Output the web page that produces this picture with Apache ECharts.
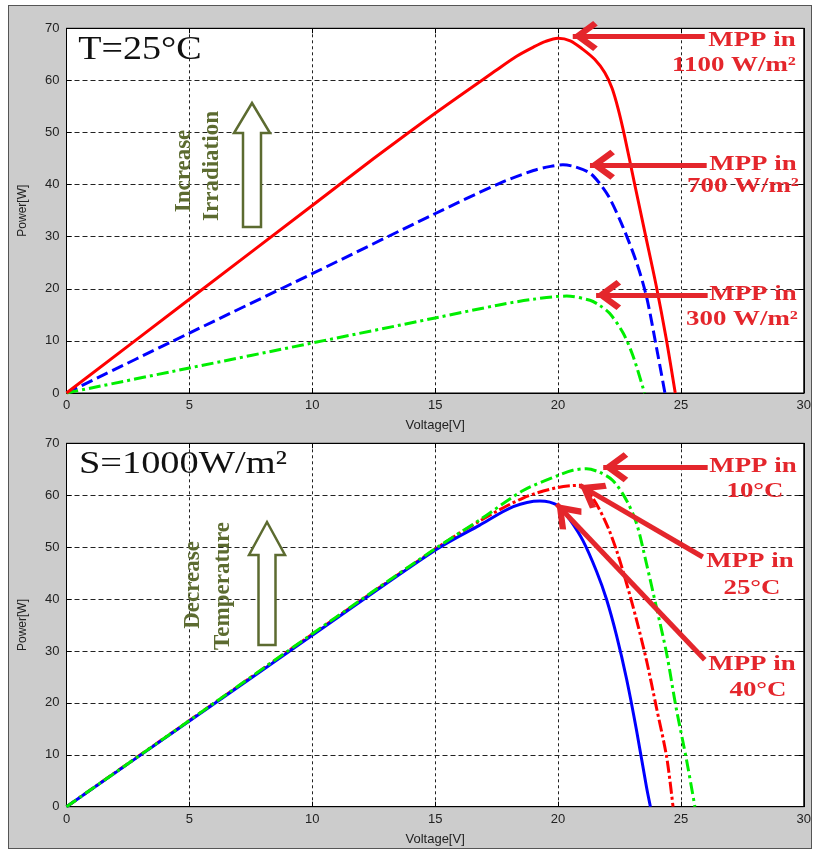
<!DOCTYPE html>
<html><head><meta charset="utf-8">
<script src="https://cdn.jsdelivr.net/npm/echarts@6/dist/echarts.min.js"></script>
<style>
html,body{margin:0;padding:0;background:#fff;}
#frame{position:absolute;left:8px;top:5px;width:802px;height:842px;background:#cccccc;border:1px solid #555;}
#chart{position:absolute;left:0;top:0;width:814px;height:850px;}
</style></head><body><div id="frame"></div><div id="chart"></div>
<script>
// ---------- data: top chart (T = 25°C, varying irradiation) ----------
const xTicks = [0, 5, 10, 15, 20, 25, 30];
const yTicks = [0, 10, 20, 30, 40, 50, 60, 70];

const v1100 = [0, 5, 10, 12.5, 15, 17.5, 18.3, 19, 19.5, 20, 20.5, 21, 21.5, 21.9, 22.2, 22.45, 22.7, 23.1, 23.55, 24.0, 24.4, 24.77];
const p1100 = [0, 18, 36, 45, 53.7, 62, 64.6, 66.4, 67.5, 68.1, 67.6, 66, 64, 61.5, 58.5, 54.5, 49.5, 40.5, 30.5, 20.5, 10.5, 0];

const v700 = [0, 5, 10, 14.9, 17.6, 19, 19.7, 20.2, 20.7, 21.3, 21.7, 22.1, 22.64, 23.2, 23.6, 24.0, 24.35];
const p700 = [0, 11.5, 22.9, 34.2, 40.2, 42.7, 43.5, 43.8, 43.4, 42.2, 40.2, 37.4, 31.9, 25, 18.5, 8.9, 0];

const v300 = [0, 5, 10, 15, 17.6, 19, 20.35, 21.3, 21.7, 22.1, 22.65, 23.06, 23.52];
const p300 = [0, 4.8, 9.6, 14.4, 16.9, 18, 18.6, 17.8, 16.8, 15.3, 11.5, 7, 0];

// ---------- data: bottom chart (S = 1000 W/m², varying temperature) ----------
const v40 = [0, 5, 10, 15, 16.8, 18.18, 19.26, 20, 20.48, 21.02, 21.57, 21.97, 22.38, 22.79, 23.2, 23.6, 23.76];
const p40 = [0, 16.5, 33, 49.4, 54.2, 57.8, 58.9, 58, 55.3, 51.2, 45.3, 40, 33, 24.6, 14.6, 3.8, 0];

const v25 = [0, 5, 10, 15, 16.8, 18.6, 20, 20.9, 21.43, 21.97, 22.38, 22.79, 23.2, 23.6, 24.0, 24.42, 24.68];
const p25 = [0, 16.6, 33.2, 49.6, 55, 59.5, 61.5, 61.9, 59.3, 54.5, 49.4, 43, 35.9, 28.2, 19.2, 9.6, 0];

const v10 = [0, 5, 10, 15, 16.8, 18.58, 20, 20.6, 21.16, 21.7, 22.24, 22.79, 23.2, 23.6, 24.0, 24.42, 24.8, 25.23, 25.57];
const p10 = [0, 16.6, 33.3, 49.7, 55.2, 60.9, 63.8, 64.8, 65.1, 64.4, 62.8, 59, 54.5, 46.8, 38.5, 29.5, 19.2, 9, 0];

// annotation arrows: [fromV, fromP, toV, toP]
const topArrows = [[25.97, 68.5, 20.6, 68.5], [26.05, 43.8, 21.3, 43.8], [26.09, 18.8, 21.55, 18.8]];
const botArrows = [[26.09, 65.4, 21.84, 65.4], [25.89, 48.1, 20.89, 61.9], [25.97, 28.3, 19.94, 58.3]];

const zip = (a, b) => a.map((v, i) => [v, b[i]]);

const RED_TXT = '#e4262c';
const OLIVE = '#5c6b30';

function arrowMark(list) {
  return {
    silent: true, animation: false,
    symbol: ['none', 'path://M50,0 L100,62 L85,76 L50,32 L15,76 L0,62 Z'],
    symbolSize: [30, 25],
    symbolOffset: [[0, 0], [0, 12.5]],
    label: { show: false },
    lineStyle: { color: RED_TXT, width: 5, type: 'solid' },
    itemStyle: { color: RED_TXT },
    emphasis: { disabled: true },
    data: list.map(a => [{ coord: [a[0], a[1]] }, { coord: [a[2], a[3]] }])
  };
}

const gridA = { left: 66.5, top: 28.3, width: 737.5, height: 364.7 };
const gridB = { left: 66.5, top: 443.3, width: 737.5, height: 363.4 };
const tickLbl = { color: '#222', fontSize: 13, fontFamily: 'Liberation Sans, Arial, sans-serif' };

function xAx(gi, pos) {
  const main = pos === 'bottom';
  return {
    type: 'value', gridIndex: gi, position: pos, min: 0, max: 30, interval: 5,
    axisLine: { show: true, onZero: false, lineStyle: { color: '#000', width: 1 } },
    axisTick: { show: true, inside: true, length: 5, lineStyle: { color: '#000' } },
    axisLabel: main ? Object.assign({ margin: 6, formatter: v => xTicks.includes(v) ? String(v) : '' }, tickLbl) : { show: false },
    splitLine: main ? { show: true, lineStyle: { color: '#222', type: [3, 3], width: 1 } } : { show: false },
    name: main ? 'Voltage[V]' : '', nameLocation: 'middle', nameGap: 26,
    nameTextStyle: { color: '#222', fontSize: 13, fontFamily: 'Liberation Sans, Arial, sans-serif' }
  };
}
function yAx(gi, pos) {
  const main = pos === 'left';
  return {
    type: 'value', gridIndex: gi, position: pos, min: 0, max: 70, interval: 10,
    axisLine: { show: true, onZero: false, lineStyle: { color: '#000', width: 1 } },
    axisTick: { show: true, inside: true, length: 5, lineStyle: { color: '#000' } },
    axisLabel: main ? Object.assign({ margin: 7, formatter: v => yTicks.includes(v) ? String(v) : '' }, tickLbl) : { show: false },
    splitLine: main ? { show: true, lineStyle: { color: '#222', type: [5, 3], width: 1 } } : { show: false },
    name: main ? 'Power[W]' : '', nameLocation: 'middle', nameGap: 38,
    nameTextStyle: { color: '#222', fontSize: 12, fontFamily: 'Liberation Sans, Arial, sans-serif' }
  };
}

function line(name, xi, yi, data, color, type, mark) {
  const s = {
    name, type: 'line', xAxisIndex: xi, yAxisIndex: yi, data, showSymbol: false,
    smooth: 0.3, animation: false,
    lineStyle: { color, width: 3, type }, itemStyle: { color }
  };
  if (mark) s.markLine = mark;
  return s;
}

const serif = 'Liberation Serif, Times New Roman, serif';
function rtext(x, y, t, size, sx, color, weight) {
  return { type: 'text', x, y, scaleX: sx, z: 100,
    style: { text: t, fill: color, font: (weight || 'bold') + ' ' + size + 'px ' + serif, textAlign: 'center', textVerticalAlign: 'middle' } };
}
function vtext(x, y, t) {
  return { type: 'text', x, y, rotation: Math.PI / 2, z: 100,
    style: { text: t, fill: OLIVE, font: 'bold 23px ' + serif, textAlign: 'center', textVerticalAlign: 'middle' } };
}
function hollowArrow(pts) {
  return { type: 'polygon', z: 100, shape: { points: pts }, style: { fill: '#fff', stroke: OLIVE, lineWidth: 2.5 } };
}

const chart = echarts.init(document.getElementById('chart'), null, { renderer: 'canvas' });
chart.setOption({
  backgroundColor: 'transparent',
  animation: false,
  grid: [
    Object.assign({ show: true, backgroundColor: '#fff', borderColor: '#000', borderWidth: 1 }, gridA),
    Object.assign({ show: true, backgroundColor: '#fff', borderColor: '#000', borderWidth: 1 }, gridB)
  ],
  xAxis: [xAx(0, 'bottom'), xAx(0, 'top'), xAx(1, 'bottom'), xAx(1, 'top')],
  yAxis: [yAx(0, 'left'), yAx(0, 'right'), yAx(1, 'left'), yAx(1, 'right')],
  series: [
    line('700 W/m²', 0, 0, zip(v700, p700), '#0000ff', [12, 5]),
    line('300 W/m²', 0, 0, zip(v300, p300), '#00ee00', [12, 4, 3, 4]),
    line('1100 W/m²', 0, 0, zip(v1100, p1100), '#ff0000', 'solid', arrowMark(topArrows)),
    line('25°C', 2, 2, zip(v25, p25), '#ff0000', [12, 3, 3, 3]),
    line('40°C', 2, 2, zip(v40, p40), '#0000ff', 'solid'),
    line('10°C', 2, 2, zip(v10, p10), '#00ee00', [12, 4, 3, 4], arrowMark(botArrows))
  ],
  graphic: [
    rtext(140, 50, 'T=25°C', 34, 1.12, '#111', 'normal'),
    rtext(183, 465, 'S=1000W/m²', 32, 1.2, '#111', 'normal'),
    rtext(752, 41, 'MPP in', 21, 1.28, RED_TXT),
    rtext(734, 66, '1100 W/m²', 21, 1.28, RED_TXT),
    rtext(753, 165, 'MPP in', 21, 1.28, RED_TXT),
    rtext(743, 187, '700 W/m²', 21, 1.28, RED_TXT),
    rtext(753, 295, 'MPP in', 21, 1.28, RED_TXT),
    rtext(742, 320, '300 W/m²', 21, 1.28, RED_TXT),
    rtext(753, 467, 'MPP in', 21, 1.28, RED_TXT),
    rtext(755, 492, '10°C', 21, 1.28, RED_TXT),
    rtext(750, 562, 'MPP in', 21, 1.28, RED_TXT),
    rtext(752, 589, '25°C', 21, 1.28, RED_TXT),
    rtext(752, 665, 'MPP in', 21, 1.28, RED_TXT),
    rtext(758, 691, '40°C', 21, 1.28, RED_TXT),
    vtext(184, 171, 'Increase'),
    vtext(212, 166, 'Irradiation'),
    vtext(193, 585, 'Decrease'),
    vtext(223, 586, 'Temperature'),
    hollowArrow([[252, 103], [270, 133], [261, 133], [261, 227], [243, 227], [243, 133], [234, 133]]),
    hollowArrow([[267, 522], [285, 555], [275.5, 555], [275.5, 645], [258.5, 645], [258.5, 555], [249, 555]])
  ]
});
</script></body></html>
